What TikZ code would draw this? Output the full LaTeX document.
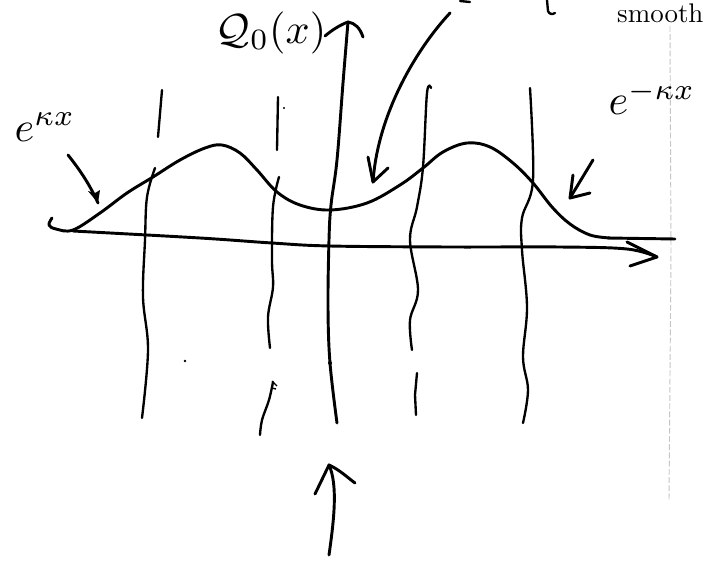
\documentclass[tikz,border=0pt]{standalone}
\usetikzlibrary{arrows.meta}
\begin{document}
\begin{tikzpicture}[x=0.03cm,y=-0.03cm,
  ink/.style={line width=2.5pt,line cap=round,line join=round},
  thin ink/.style={line width=2.0pt,line cap=round,line join=round},
  lbl/.style={inner sep=0pt,scale=3.6},
  fold/.style={gray!45,line width=0.8pt,dash pattern=on 5pt off 2pt}]
\useasboundingbox (0,0) rectangle (718,561);
\clip (0,0) rectangle (718,561);
\fill[white] (0,0) rectangle (718,561);
% paper fold
\draw[fold] (670,26) -- (671,250) -- (669,500);
% labels
\node[lbl,anchor=east] (psi) at (327,33) {$\mathcal{Q}_0(x)$};
\node[lbl] (ekx) at (45,127) {$e^{\kappa x}$};
\node[lbl] (emkx) at (652,98) {$e^{-\kappa x}$};
\node[inner sep=0pt,scale=2.3,anchor=base east] (smooth) at (704,22) {smooth};
\draw[thin ink] (547,0) -- (548,11) .. controls (549,14) and (552,15) .. (555,13);
\draw[thin ink] (460,1) -- (470,2);
% x axis
\coordinate (xs) at (73,231);
\coordinate (xt) at (657,257);
\draw[ink] plot[smooth,tension=0.6] coordinates {(73,231) (200,238) (272,243) (330,246) (450,247) (560,247) (627,249) (657,257)};
\draw[ink] (627,242) -- (xt) -- (630,266);
% y axis
\coordinate (yb) at (337,423);
\coordinate (yt) at (348,22);
\draw[ink] plot[smooth,tension=0.6] coordinates {(337,423) (330,363) (328,307) (329,240) (331,205) (337,160) (343,83) (348,22)};
\draw[ink] (325,36) .. controls (332,30) and (340,25) .. (yt) .. controls (355,23) and (360,28) .. (363,37);
% wave function
\draw[ink] plot[smooth,tension=0.6] coordinates {(52,218) (49,225) (56,229) (73,230) (100,213) (127,193) (153,177) (180,160) (205,148) (222,145) (240,153) (257,170) (277,192) (300,205) (330,210) (367,203) (400,185) (423,168) (443,152) (467,143) (490,147) (513,163) (533,183) (552,207) (570,224) (590,235) (610,238)};
\draw[ink] (608,238) -- (675,239);
% vertical lines
\draw[thin ink] (162,90) -- (158,137);
\draw[thin ink] plot[smooth,tension=0.6] coordinates {(155,168) (147,197) (145,240) (143,297) (148,350) (142,418)};
\draw[thin ink] (278,97) -- (277,150);
\fill (284,108) circle (1.2);
\draw[thin ink] plot[smooth,tension=0.6] coordinates {(279,177) (273,207) (272,260) (273,287) (268,317) (270,348)};
\draw[thin ink] plot[smooth,tension=0.6] coordinates {(273,382) (269,400) (262,420) (260,435)};
\draw[line width=1.2pt] (272,381) -- (277,386) (272,388) -- (276,389);
\draw[thin ink] plot[smooth,tension=0.6] coordinates {(431,88) (427,93) (423,167) (417,207) (410,240) (418,290) (410,320) (412,350)};
\draw[thin ink] (417,373) -- (415,395) -- (416,415);
\draw[thin ink] plot[smooth,tension=0.6] coordinates {(530,88) (533,180) (522,218) (522,250) (527,307) (523,357) (528,390) (523,423)};
\fill (185,361) circle (1.3);
\fill (330,363) circle (2);
% arrows from labels
\coordinate (a1s) at (68,155);
\coordinate (a1t) at (98,203);
\draw[ink] (a1s) .. controls (80,170) and (90,185) .. (a1t);
\fill (a1t) -- (88,191) -- (95,193) -- (100,190) -- cycle;
\coordinate (a2s) at (593,160);
\coordinate (a2t) at (570,198);
\draw[ink] (a2s) -- (a2t);
\draw[ink] (573,175) -- (a2t) -- (590,193);
\coordinate (a3s) at (450,13);
\coordinate (a3t) at (373,182);
\draw[ink] (a3s) .. controls (420,45) and (378,110) .. (a3t);
\draw[ink] (368,157) -- (a3t) -- (388,168);
\coordinate (a4s) at (329,555);
\coordinate (a4t) at (329,465);
\draw[ink] (a4s) .. controls (334,520) and (338,485) .. (a4t);
\draw[ink] (315,494) -- (a4t) .. controls (340,470) and (348,478) .. (355,483);
\end{tikzpicture}
\end{document}
